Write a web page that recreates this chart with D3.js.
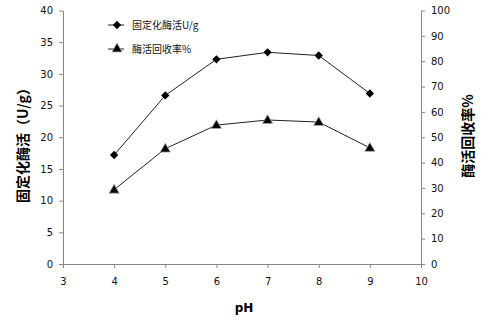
<!DOCTYPE html>
<html>
<head>
<meta charset="utf-8">
<script src="https://cdn.jsdelivr.net/npm/d3@7"></script>
<style>
  body { margin: 0; background: #fff; }
  text { font-family: "DejaVu Sans", Verdana, sans-serif; }
</style>
</head>
<body>
<svg width="492" height="330"></svg>
<script>
// data
var phValues = [4, 5, 6, 7, 8, 9];
var activity = [17.2, 26.6, 32.3, 33.4, 32.9, 26.9];      // 固定化酶活 U/g (left)
var recovery = [29.3, 45.5, 54.8, 56.8, 56.0, 45.8];      // 酶活回收率 % (right)
var xTicks = [3, 4, 5, 6, 7, 8, 9, 10];
var leftTicks = [0, 5, 10, 15, 20, 25, 30, 35, 40];
var rightTicks = [0, 10, 20, 30, 40, 50, 60, 70, 80, 90, 100];
var seriesNames = ["固定化酶活U/g", "酶活回收率%"];

var svg = d3.select("svg");
var plotLeft = 63, plotRight = 421, plotTop = 10.5, plotBottom = 264;
var axisColor = "#868686";
var cjk = '"Noto Sans CJK SC", sans-serif';

var x = d3.scaleLinear().domain([3, 10]).range([plotLeft, plotRight]);
var yL = d3.scaleLinear().domain([0, 40]).range([plotBottom, plotTop]);
var yR = d3.scaleLinear().domain([0, 100]).range([plotBottom, plotTop]);

function styleAxis(g) {
  g.selectAll("path, line").attr("stroke", axisColor);
  g.selectAll("text").attr("font-size", 10).attr("fill", "#111");
}

// x axis
svg.append("g")
    .attr("transform", "translate(0," + plotBottom + ")")
    .call(d3.axisBottom(x).tickValues(xTicks).tickFormat(d3.format("d"))
        .tickSize(4).tickSizeOuter(0).tickPadding(10))
    .call(styleAxis);

// left axis
svg.append("g")
    .attr("transform", "translate(" + plotLeft + ",0)")
    .call(d3.axisLeft(yL).tickValues(leftTicks).tickSize(4).tickSizeOuter(0).tickPadding(6))
    .call(styleAxis);

// right axis
svg.append("g")
    .attr("transform", "translate(" + plotRight + ",0)")
    .call(d3.axisRight(yR).tickValues(rightTicks).tickSize(4).tickSizeOuter(0).tickPadding(6))
    .call(styleAxis);

// lines
var lineL = d3.line().x(function(d, i) { return x(phValues[i]); }).y(function(d) { return yL(d); });
var lineR = d3.line().x(function(d, i) { return x(phValues[i]); }).y(function(d) { return yR(d); });

svg.append("path").attr("d", lineL(activity))
    .attr("fill", "none").attr("stroke", "#222").attr("stroke-width", 1);
svg.append("path").attr("d", lineR(recovery))
    .attr("fill", "none").attr("stroke", "#222").attr("stroke-width", 1);

var diamond = d3.symbol().type(d3.symbolDiamond2).size(44);
var triangle = d3.symbol().type(d3.symbolTriangle).size(45);

svg.append("g").selectAll("path")
    .data(activity)
    .enter().append("path")
    .attr("d", diamond)
    .attr("transform", function(d, i) { return "translate(" + x(phValues[i]) + "," + yL(d) + ")"; })
    .attr("fill", "#000");

svg.append("g").selectAll("path")
    .data(recovery)
    .enter().append("path")
    .attr("d", triangle)
    .attr("transform", function(d, i) { return "translate(" + x(phValues[i]) + "," + (yR(d) + 0.5) + ")"; })
    .attr("fill", "#000").attr("stroke", "#aaa").attr("stroke-width", 0.8);

// legend
var legend = svg.append("g");
[0, 1].forEach(function(i) {
  var ly = 25 + i * 24;
  legend.append("line").attr("x1", 108).attr("x2", 124).attr("y1", ly).attr("y2", ly)
      .attr("stroke", "#222");
  legend.append("path")
      .attr("d", i === 0 ? diamond() : triangle())
      .attr("transform", "translate(117," + ly + ")")
      .attr("fill", "#000").attr("stroke", i === 0 ? "none" : "#aaa").attr("stroke-width", 0.8);
  legend.append("text").attr("x", 132).attr("y", ly + 4)
      .attr("font-size", 10).attr("fill", "#111")
      .style("font-family", cjk)
      .text(seriesNames[i]);
});

// axis titles
svg.append("text")
    .attr("transform", "translate(28,142) rotate(-90)")
    .attr("text-anchor", "middle")
    .attr("font-size", 14).attr("font-weight", "bold")
    .style("font-family", cjk)
    .text("固定化酶活（U/g）");

svg.append("text")
    .attr("transform", "translate(473,136) rotate(-90)")
    .attr("text-anchor", "middle")
    .attr("font-size", 14).attr("font-weight", "bold")
    .style("font-family", cjk)
    .text("酶活回收率%");

svg.append("text")
    .attr("x", 244).attr("y", 312)
    .attr("text-anchor", "middle")
    .attr("font-size", 12).attr("font-weight", "bold")
    .text("pH");
</script>
</body>
</html>
